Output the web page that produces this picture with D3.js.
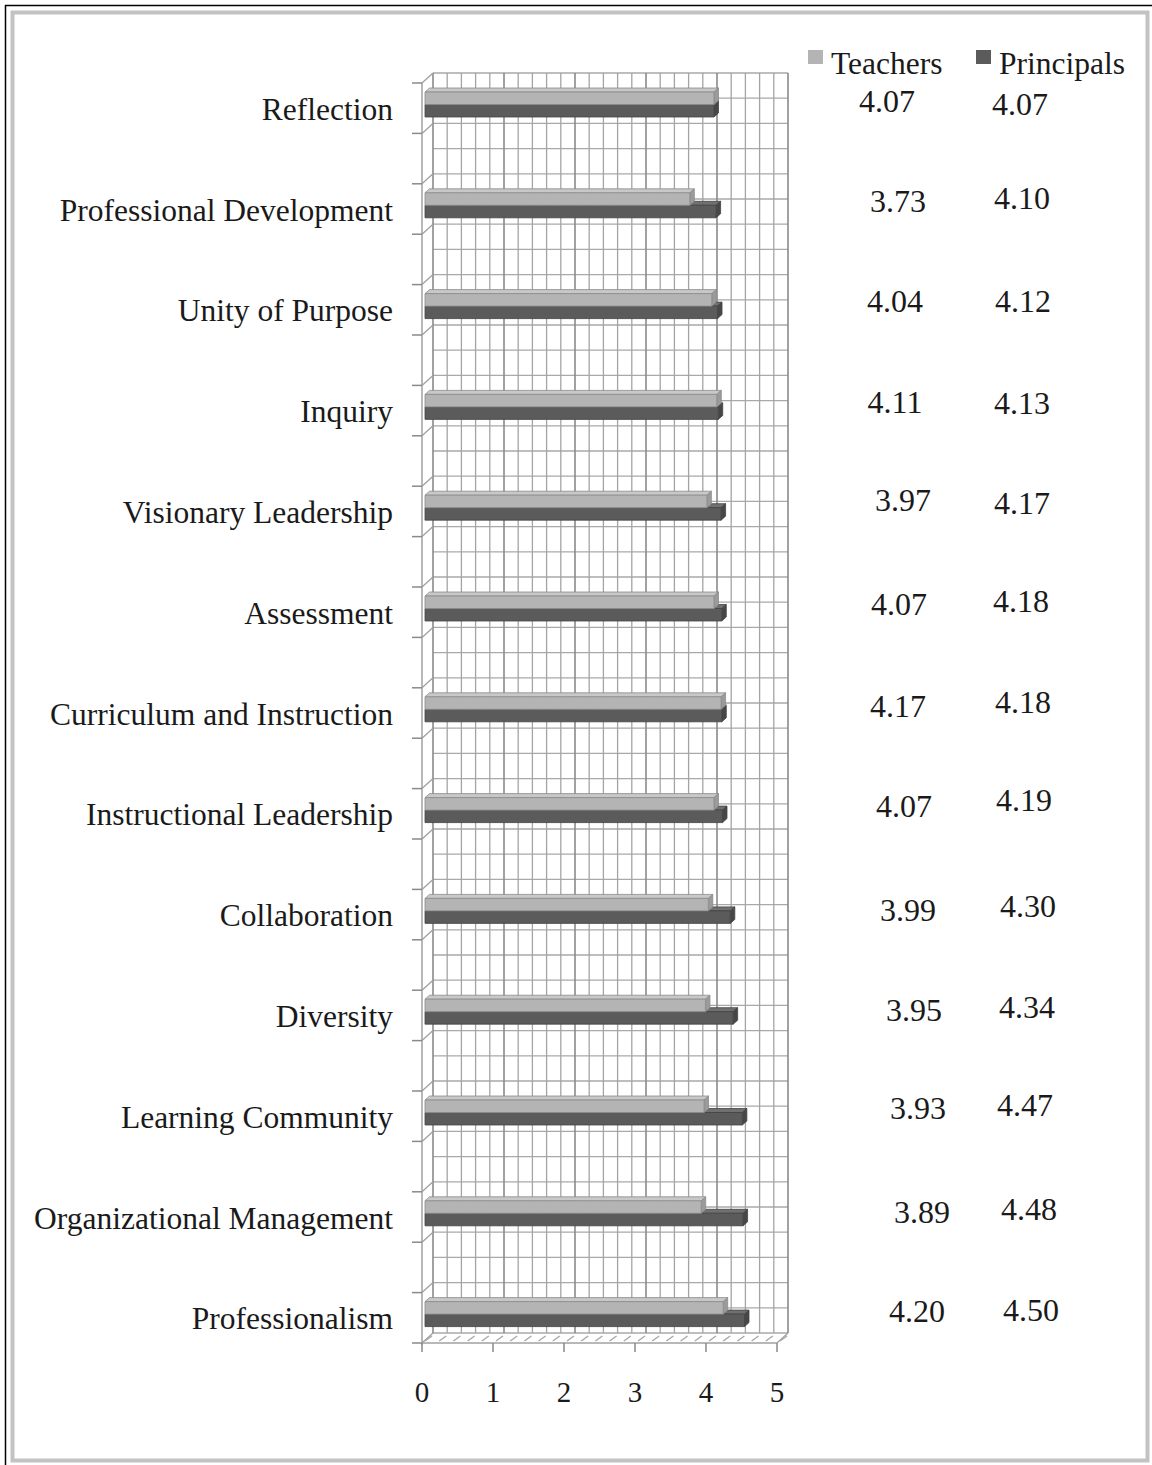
<!DOCTYPE html>
<html>
<head>
<meta charset="utf-8">
<script src="https://cdn.jsdelivr.net/npm/d3@7"></script>
<style>
  html, body { margin: 0; padding: 0; background: #fff; }
  svg { display: block; }
  text { font-family: "Liberation Serif", "Times New Roman", serif; fill: #1a1a1a; }
</style>
</head>
<body>
<svg id="chart" width="1152" height="1465"></svg>
<script>
// Survey means by dimension
const categories = [
  "Reflection", "Professional Development", "Unity of Purpose", "Inquiry",
  "Visionary Leadership", "Assessment", "Curriculum and Instruction",
  "Instructional Leadership", "Collaboration", "Diversity",
  "Learning Community", "Organizational Management", "Professionalism"
];
const teachers   = [4.07, 3.73, 4.04, 4.11, 3.97, 4.07, 4.17, 4.07, 3.99, 3.95, 3.93, 3.89, 4.20];
const principals = [4.07, 4.10, 4.12, 4.13, 4.17, 4.18, 4.18, 4.19, 4.30, 4.34, 4.47, 4.48, 4.50];
const seriesNames = ["Teachers", "Principals"];
const xTicks = [0, 1, 2, 3, 4, 5];

// Hand-placed value text boxes: small shifts from their column / row centre
const teacherLabelShiftX   = [0, 11, 8, 8, 16, 12, 11, 17, 21, 27, 31, 35, 30];
const teacherLabelShiftY   = [-7, -8, -9, -9, -11, -8, -7, -8, -5, -5, -8, -5, -7];
const principalLabelShiftX = [0, 2, 3, 2, 2, 1, 3, 4, 8, 7, 5, 9, 11];
const principalLabelShiftY = [-4, -11, -9, -8, -8, -11, -11, -14, -9, -8, -11, -8, -8];

const svg = d3.select("#chart");

// Frame
svg.append("line").attr("x1", 5).attr("y1", 5.5).attr("x2", 1152).attr("y2", 5.5)
  .attr("stroke", "#000").attr("stroke-width", 1.5);
svg.append("line").attr("x1", 5.5).attr("y1", 5).attr("x2", 5.5).attr("y2", 1465)
  .attr("stroke", "#000").attr("stroke-width", 1.5);
svg.append("rect").attr("x", 12.5).attr("y", 12.5).attr("width", 1135).attr("height", 1448)
  .attr("fill", "none").attr("stroke", "#c3c3c3").attr("stroke-width", 4);

// Scales (front plane); the back wall sits one depth step up and to the right
const x = d3.scaleLinear().domain([0, 5]).range([422, 777]);
const y = d3.scaleBand().domain(categories).range([83, 1343]).paddingInner(0.5).paddingOuter(0);
const DX = 11, DY = -10;
const [yTop, yBot] = y.range();
const bw = y.bandwidth();

const grid = svg.append("g");

// Back wall horizontal grid lines
const hCount = Math.round((yBot - yTop) / (bw / 2));
d3.range(hCount + 1).forEach(k => {
  const yy = yTop + k * bw / 2 + DY;
  grid.append("line")
    .attr("x1", x(0) + DX).attr("x2", x(5) + DX)
    .attr("y1", yy).attr("y2", yy)
    .attr("stroke", "#a9a9a9").attr("stroke-width", 1.3);
});

// Back wall vertical grid lines (minor every 0.2, major every 1)
const minorVals = d3.range(0, 5.0001, 0.2);
minorVals.forEach(v => {
  const major = Math.abs(v - Math.round(v)) < 1e-6;
  grid.append("line")
    .attr("x1", x(v) + DX).attr("x2", x(v) + DX)
    .attr("y1", yTop + DY).attr("y2", yBot + DY)
    .attr("stroke", major ? "#8a8a8a" : "#a4a4a4")
    .attr("stroke-width", major ? 1.6 : 1.3);
});

// Side wall: front edge and depth lines at each tick
grid.append("line").attr("x1", x(0)).attr("x2", x(0)).attr("y1", yTop).attr("y2", yBot + 2)
  .attr("stroke", "#9a9a9a").attr("stroke-width", 1.4);
const yTickVals = d3.range(Math.round((yBot - yTop) / bw) + 1).map(j => yTop + j * bw);
yTickVals.forEach(t => {
  grid.append("line").attr("x1", x(0)).attr("y1", t).attr("x2", x(0) + DX).attr("y2", t + DY)
    .attr("stroke", "#a0a0a0").attr("stroke-width", 1.3);
  grid.append("line").attr("x1", x(0) - 10).attr("y1", t).attr("x2", x(0)).attr("y2", t)
    .attr("stroke", "#8a8a8a").attr("stroke-width", 1.5);
});

// Floor
grid.append("line").attr("x1", x(0)).attr("x2", x(5)).attr("y1", yBot).attr("y2", yBot)
  .attr("stroke", "#a0a0a0").attr("stroke-width", 1.3);
grid.append("line").attr("x1", x(5)).attr("y1", yBot).attr("x2", x(5) + DX).attr("y2", yBot + DY)
  .attr("stroke", "#a0a0a0").attr("stroke-width", 1.3);
minorVals.forEach(v => {
  grid.append("line").attr("x1", x(v) + 3).attr("y1", yBot - 2)
    .attr("x2", x(v) + DX - 1).attr("y2", yBot + DY + 3)
    .attr("stroke", "#a8a8a8").attr("stroke-width", 1.5);
});

// Value axis ticks and labels
xTicks.forEach(v => {
  grid.append("line").attr("x1", x(v)).attr("x2", x(v)).attr("y1", yBot).attr("y2", yBot + 9)
    .attr("stroke", "#8a8a8a").attr("stroke-width", 1.5);
});
svg.append("g").selectAll("text").data(xTicks).join("text")
  .attr("x", d => x(d)).attr("y", yBot + 49)
  .attr("text-anchor", "middle").attr("dominant-baseline", "central")
  .attr("font-size", 29).text(d => d);

// Category labels
svg.append("g").selectAll("text").data(categories).join("text")
  .attr("x", 393).attr("y", d => y(d) + bw / 2 + 1)
  .attr("text-anchor", "end").attr("dominant-baseline", "central")
  .attr("font-size", 31.5).text(d => d);

// 3D bars
const series = [
  { name: seriesNames[1], values: principals, y0: 21.5, y1: 34, front: "#5b5b5b", top: "#707070", side: "#474747", stroke: "#444" },
  { name: seriesNames[0], values: teachers,   y0: 9,    y1: 21.5, front: "#b4b4b4", top: "#c8c8c8", side: "#9b9b9b", stroke: "#8c8c8c" }
];
const OFF = 3, DEP_X = 4.5, DEP_Y = -4;
const bars = svg.append("g");
series.forEach(s => {
  categories.forEach((c, i) => {
    const x0 = x(0) + OFF, x1 = x(s.values[i]) + OFF;
    const t = y(c) + s.y0, b = y(c) + s.y1;
    const g = bars.append("g").attr("stroke", s.stroke).attr("stroke-width", 0.8).attr("stroke-linejoin", "round");
    g.append("polygon").attr("fill", s.top)
      .attr("points", [[x0, t], [x1, t], [x1 + DEP_X, t + DEP_Y], [x0 + DEP_X, t + DEP_Y]].join(" "));
    g.append("polygon").attr("fill", s.side)
      .attr("points", [[x1, t], [x1 + DEP_X, t + DEP_Y], [x1 + DEP_X, b + DEP_Y], [x1, b]].join(" "));
    g.append("rect").attr("fill", s.front)
      .attr("x", x0).attr("y", t).attr("width", x1 - x0).attr("height", b - t);
  });
});

// Value labels
const labels = svg.append("g").attr("font-size", 32).attr("text-anchor", "middle").attr("dominant-baseline", "central");
categories.forEach((c, i) => {
  const cy = y(c) + bw / 2;
  labels.append("text").attr("x", 887 + teacherLabelShiftX[i]).attr("y", cy + teacherLabelShiftY[i])
    .text(teachers[i].toFixed(2));
  labels.append("text").attr("x", 1020 + principalLabelShiftX[i]).attr("y", cy + principalLabelShiftY[i])
    .text(principals[i].toFixed(2));
});

// Legend
const legend = svg.append("g");
[[808, seriesNames[0], "#b4b4b4"], [976, seriesNames[1], "#5b5b5b"]].forEach(([lx, name, col]) => {
  legend.append("rect").attr("x", lx).attr("y", 50).attr("width", 15).attr("height", 14).attr("fill", col);
  legend.append("text").attr("x", lx + 23).attr("y", 63).attr("dominant-baseline", "central")
    .attr("font-size", 31.5).text(name);
});
</script>
</body>
</html>
